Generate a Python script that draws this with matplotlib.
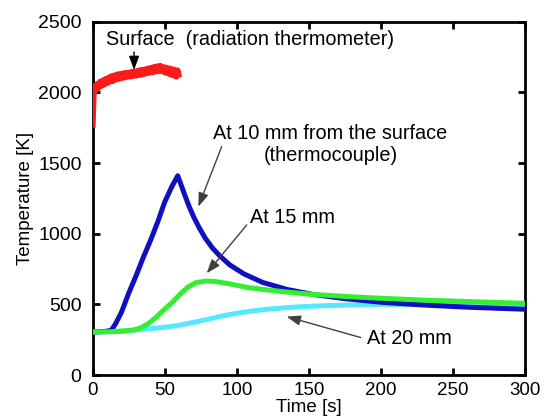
import matplotlib
matplotlib.use("Agg")
import matplotlib.pyplot as plt

plt.rcParams['font.family'] = ['Liberation Sans', 'DejaVu Sans']

# Surface temperature by radiation thermometer
t_surface = [0, 0.3, 0.7, 1.2, 2, 3, 4, 5, 6, 7, 8, 9, 10, 11, 12, 13, 14, 15,
             16, 17, 18, 19, 20, 21, 22, 23, 24, 25, 26, 27, 28, 29, 30, 31, 32,
             33, 34, 35, 36, 37, 38, 39, 40, 41, 42, 43, 44, 45, 46, 47, 48, 49,
             50, 51, 52, 53, 54, 55, 56, 57, 58, 59, 60]
T_surface = [1750, 1860, 1990, 2045, 2015, 2060, 2030, 2075, 2045, 2085, 2055,
             2095, 2065, 2105, 2075, 2115, 2080, 2120, 2090, 2128, 2095, 2130,
             2100, 2135, 2105, 2138, 2110, 2140, 2112, 2145, 2115, 2148, 2118,
             2152, 2122, 2158, 2125, 2160, 2130, 2165, 2135, 2170, 2140, 2175,
             2142, 2182, 2148, 2185, 2150, 2188, 2150, 2180, 2140, 2175, 2135,
             2170, 2125, 2165, 2120, 2160, 2110, 2155, 2105]

# Thermocouple at 10 mm
t_10 = [0, 5, 10, 13, 16, 20, 25, 30, 35, 40, 45, 50, 55, 59, 61, 64, 67, 70,
        74, 78, 83, 88, 95, 105, 118, 135, 153, 175, 200, 230, 260, 300]
T_10 = [305, 306, 310, 318, 365, 445, 580, 700, 830, 950, 1080, 1225, 1335,
        1410, 1355, 1270, 1190, 1120, 1040, 970, 900, 845, 780, 715, 655, 605,
        570, 540, 515, 495, 480, 465]

# Thermocouple at 15 mm
t_15 = [0, 10, 20, 28, 33, 38, 44, 49, 55, 61, 66, 72, 79, 85, 95, 107, 120,
        135, 153, 175, 200, 230, 260, 300]
T_15 = [305, 306, 310, 318, 332, 360, 408, 458, 512, 575, 622, 655, 665, 662,
        645, 620, 603, 587, 570, 556, 543, 530, 520, 507]

# Thermocouple at 20 mm
t_20 = [0, 15, 26, 40, 50, 60, 70, 80, 90, 100, 110, 120, 130, 142, 155, 176,
        200, 230, 260, 300]
T_20 = [305, 307, 315, 328, 338, 352, 372, 395, 418, 437, 452, 464, 473, 482,
        488, 495, 500, 498, 494, 488]

fig = plt.figure(figsize=(5.46, 4.19), dpi=100)
ax = fig.add_axes([0.1698, 0.105, 0.7918, 0.8432])

ax.plot(t_20, T_20, color='#55e8ff', lw=3.6, solid_capstyle='butt', zorder=3)
ax.plot(t_10, T_10, color='#1010c0', lw=3.6, solid_capstyle='butt', zorder=4)
ax.plot(t_15, T_15, color='#33ee33', lw=3.6, solid_capstyle='butt', zorder=5)
ax.plot(t_surface, T_surface, color='#ff1a1a', lw=4.2, solid_capstyle='butt', zorder=6)

ax.set_xlim(0, 300)
ax.set_ylim(0, 2500)
ax.set_xticks([0, 50, 100, 150, 200, 250, 300])
ax.set_yticks([0, 500, 1000, 1500, 2000, 2500])

for side in ax.spines.values():
    side.set_linewidth(2.0)
ax.tick_params(axis='both', direction='in', length=5, width=2,
               top=True, right=True)
ax.tick_params(axis='x', labelsize=13.5, pad=5)
ax.tick_params(axis='y', labelsize=14, pad=8)

ax.set_xlabel('Time [s]', fontsize=13.5, labelpad=0)
ax.set_ylabel('Temperature [K]', fontsize=13.5, labelpad=3)

txt = dict(fontsize=14.3, color='black', zorder=10)
ax.text(9.25, 2371, 'Surface  (radiation thermometer)', ha='left', va='center', **txt)
ax.text(165, 1628, 'At 10 mm from the surface\n(thermocouple)', ha='center',
        va='center', multialignment='center', linespacing=1.2, **txt)
ax.text(109.2, 1111, 'At 15 mm', ha='left', va='center', **txt)
ax.text(190, 255, 'At 20 mm', ha='left', va='center', **txt)

arrow_dark = dict(arrowstyle='-|>,head_length=0.6,head_width=0.22', color='black',
                  lw=1.0, mutation_scale=14, shrinkA=0, shrinkB=0)
arrow_grey = dict(arrowstyle='-|>,head_length=0.6,head_width=0.22', color='#404040',
                  lw=1.0, mutation_scale=14, shrinkA=0, shrinkB=0)
ax.annotate('', xy=(28.7, 2158), xytext=(28.7, 2286), arrowprops=arrow_dark, zorder=10)
ax.annotate('', xy=(73.3, 1191), xytext=(89.5, 1616), arrowprops=arrow_grey, zorder=10)
ax.annotate('', xy=(79.1, 720), xytext=(106.9, 1062), arrowprops=arrow_grey, zorder=10)
ax.annotate('', xy=(134.6, 413), xytext=(186.0, 265), arrowprops=arrow_grey, zorder=10)

fig.savefig('out.png', dpi=100)
